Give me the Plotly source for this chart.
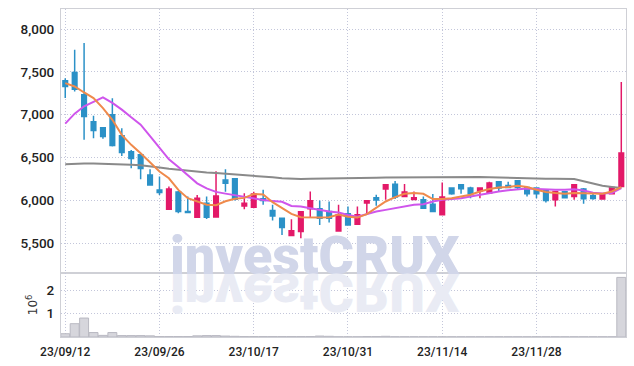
import plotly.graph_objects as go

dates = ["23/09/12","23/09/13","23/09/14","23/09/15","23/09/18","23/09/19","23/09/20","23/09/21","23/09/22","23/09/25",
         "23/09/26","23/09/27","23/10/04","23/10/05","23/10/06","23/10/10","23/10/11","23/10/12","23/10/13","23/10/16",
         "23/10/17","23/10/18","23/10/19","23/10/20","23/10/23","23/10/24","23/10/25","23/10/26","23/10/27","23/10/30",
         "23/10/31","23/11/01","23/11/02","23/11/03","23/11/06","23/11/07","23/11/08","23/11/09","23/11/10","23/11/13",
         "23/11/14","23/11/15","23/11/16","23/11/17","23/11/20","23/11/21","23/11/22","23/11/23","23/11/24","23/11/27",
         "23/11/28","23/11/29","23/11/30","23/12/01","23/12/04","23/12/05","23/12/06","23/12/07","23/12/08","23/12/11"]

opens  = [7396,7494,7233,6917,6847,7000,6754,6567,6532,6298,
          6123,5897,6100,5870,5804,5967,5808,6240,6252,5936,
          5921,6020,5883,5793,5590,5637,5902,5902,5871,5645,
          5844,5723,5969,6031,6133,6188,6047,6012,6008,5957,
          5832,6145,6184,6145,6113,6086,6219,6176,6230,6152,
          6144,6125,6008,6102,6047,6133,6055,6016,6078,6164]
highs  = [7425,7759,7836,6988,6855,7194,6843,6590,6540,6365,
          6279,6162,6110,6045,6065,6045,6340,6365,6254,6085,
          6103,6125,5949,5793,5781,5870,6105,6000,5988,5949,
          5930,5930,6000,6066,6184,6227,6191,6105,6047,6074,
          6211,6150,6190,6160,6150,6219,6222,6219,6235,6155,
          6148,6128,6110,6110,6190,6145,6074,6080,6160,7383]
lows   = [7195,7272,6707,6727,6720,6629,6520,6376,6248,6175,
          6065,5890,5850,5855,5800,5785,5800,6103,6000,5898,
          5910,5950,5766,5598,5585,5559,5805,5715,5742,5640,
          5707,5720,5852,5937,6008,6016,6040,6005,5905,5865,
          5825,6066,6078,6027,6027,6080,6105,6144,6125,6047,
          6027,5977,5930,6027,6008,5961,6008,6012,6075,6160]
closes = [7330,7299,6980,6816,6746,6641,6559,6489,6372,6181,
          6092,6135,5870,5860,6026,5804,6053,6201,6014,5968,
          6076,6000,5820,5684,5648,5867,5996,5793,5793,5832,
          5715,5832,5996,6004,6184,6039,6098,6031,5910,5871,
          6039,6078,6137,6078,6145,6203,6144,6152,6152,6078,
          6078,6000,6105,6031,6184,6020,6024,6078,6152,6555]

ma_short = [7369,7330,7260,7194,7077,6941,6766,6649,6551,6442,
            6337,6259,6123,6026,5990,5950,5945,5990,6020,6030,
            6075,6070,5980,5910,5844,5805,5801,5801,5805,5835,
            5810,5800,5840,5910,5988,6039,6078,6086,6078,6016,
            6016,6027,6047,6066,6105,6133,6152,6156,6172,6156,
            6125,6098,6086,6078,6086,6086,6078,6078,6105,6156]
ma_mid   = [6897,7013,7099,7150,7204,7138,7060,6970,6885,6750,
            6613,6480,6390,6300,6200,6140,6100,6080,6060,6040,
            6020,6005,5995,5985,5935,5930,5910,5890,5870,5860,
            5830,5810,5840,5870,5890,5910,5937,5949,5957,5988,
            6008,6016,6027,6047,6066,6090,6105,6118,6130,6140,
            6135,6128,6125,6125,6130,6117,6090,6080,6086,6145]
ma_long  = [6423,6430,6432,6432,6430,6427,6424,6418,6410,6400,
            6385,6370,6358,6345,6333,6325,6320,6313,6305,6297,
            6289,6280,6270,6260,6254,6250,6252,6255,6258,6260,
            6262,6262,6263,6265,6267,6268,6270,6271,6272,6273,
            6273,6275,6275,6274,6273,6270,6266,6262,6260,6258,
            6256,6254,6253,6252,6250,6225,6195,6172,6158,6145]

volumes_m = [0.14,0.57,0.81,0.19,0.07,0.19,0.06,0.06,0.06,0.05,
             0.02,0.02,0.02,0.02,0.05,0.06,0.06,0.04,0.03,0.02,
             0.02,0.02,0.02,0.02,0.02,0.02,0.02,0.04,0.03,0.01,
             0.01,0.01,0.02,0.02,0.03,0.01,0.01,0.01,0.01,0.01,
             0.01,0.01,0.01,0.01,0.01,0.01,0.01,0.01,0.01,0.01,
             0.01,0.01,0.01,0.01,0.01,0.01,0.01,0.01,0.01,2.55]

tick_dates = ["23/09/12","23/09/26","23/10/17","23/10/31","23/11/14","23/11/28"]
price_ticks = [5500,6000,6500,7000,7500,8000]
vol_ticks = [1,2]

RED = "#e31968"
BLUE = "#2b91c7"
GRID = "#c3c6da"
DASH = "1px,2px"
FRAME = "#cfd0d6"
YFONT = dict(family="Roboto, sans-serif", size=13.5, color="#222222", weight=500)
XFONT = dict(family="Roboto, sans-serif", size=12, color="#222222", weight=500)

fig = go.Figure()
fig.add_trace(go.Bar(x=dates, y=volumes_m, xaxis="x2", yaxis="y2",
                     marker=dict(color="#d6d6dc", line=dict(color="#b9b9c2", width=1)),
                     hoverinfo="skip"))
fig.add_trace(go.Candlestick(x=dates, open=opens, high=highs, low=lows, close=closes,
                             increasing=dict(line=dict(color=RED, width=1.5), fillcolor=RED),
                             decreasing=dict(line=dict(color=BLUE, width=1.5), fillcolor=BLUE),
                             whiskerwidth=0, hoverinfo="skip"))
fig.add_trace(go.Scatter(x=dates, y=ma_long, mode="lines", line=dict(color="#8a8a8a", width=2), hoverinfo="skip"))
fig.add_trace(go.Scatter(x=dates, y=ma_mid, mode="lines", line=dict(color="#cf55ec", width=2), hoverinfo="skip"))
fig.add_trace(go.Scatter(x=dates, y=ma_short, mode="lines", line=dict(color="#ef8a4c", width=2), hoverinfo="skip"))

split = 0.196
wm_font = dict(family="Roboto, Liberation Sans, sans-serif", size=54, weight=900)
common_axis = dict(showgrid=True, gridcolor=GRID, griddash=DASH, gridwidth=1,
                   showline=True, mirror=True, linecolor=FRAME, linewidth=1,
                   zeroline=False, automargin=False)
fig.update_layout(
    width=634, height=366,
    margin=dict(l=61, r=8, t=9, b=29, autoexpand=False),
    paper_bgcolor="white", plot_bgcolor="white",
    showlegend=False, bargap=0.05,
    xaxis=dict(type="category", anchor="y", domain=[0, 1], range=[-0.45, 59.5],
               rangeslider=dict(visible=False), tickvals=tick_dates, showticklabels=False,
               **common_axis),
    xaxis2=dict(type="category", anchor="y2", matches="x", domain=[0, 1], range=[-0.45, 59.5],
                tickvals=tick_dates, ticktext=tick_dates, tickfont=XFONT,
                ticks="outside", ticklen=4, tickcolor="rgba(0,0,0,0)", **common_axis),
    yaxis=dict(domain=[split, 1], range=[5157, 8234], tickvals=price_ticks, tickformat=",d",
               tickfont=YFONT, ticks="outside", ticklen=3, tickcolor="rgba(0,0,0,0)",
               **common_axis),
    yaxis2=dict(domain=[0, split], range=[0, 2.75], tickvals=vol_ticks, ticktext=["1", "2"],
                tickfont=YFONT, ticks="outside", ticklen=3, tickcolor="rgba(0,0,0,0)",
                title=dict(text="10<sup>6</sup>", font=dict(family="DejaVu Sans, sans-serif", size=12, color="#333333"), standoff=6),
                **common_axis),
    annotations=[
        dict(text="investCRUX", xref="paper", yref="paper", x=0.4496, y=split,
             xanchor="center", yanchor="bottom", yshift=-16, showarrow=False,
             font=dict(color="#d1d6e9", **wm_font)),
        dict(text="investCRUX", xref="paper", yref="paper", x=0.4496, y=split,
             xanchor="center", yanchor="bottom", yshift=-16, showarrow=False,
             font=dict(color="#e9ebf4", **wm_font)),
    ],
)

post = """
var gd = document.getElementById('{plot_id}');
var t = gd.querySelector('.annotation[data-index="1"] text.annotation-text');
if (t) {
  var y = parseFloat(t.getAttribute('y'));
  if (!isNaN(y)) { t.setAttribute('transform', 'matrix(1,0,0,-1,0,' + (2*y) + ')'); }
}
document.body.style.margin = '0';
"""
fig.write_html("out.html", post_script=post, config={"displayModeBar": False})
